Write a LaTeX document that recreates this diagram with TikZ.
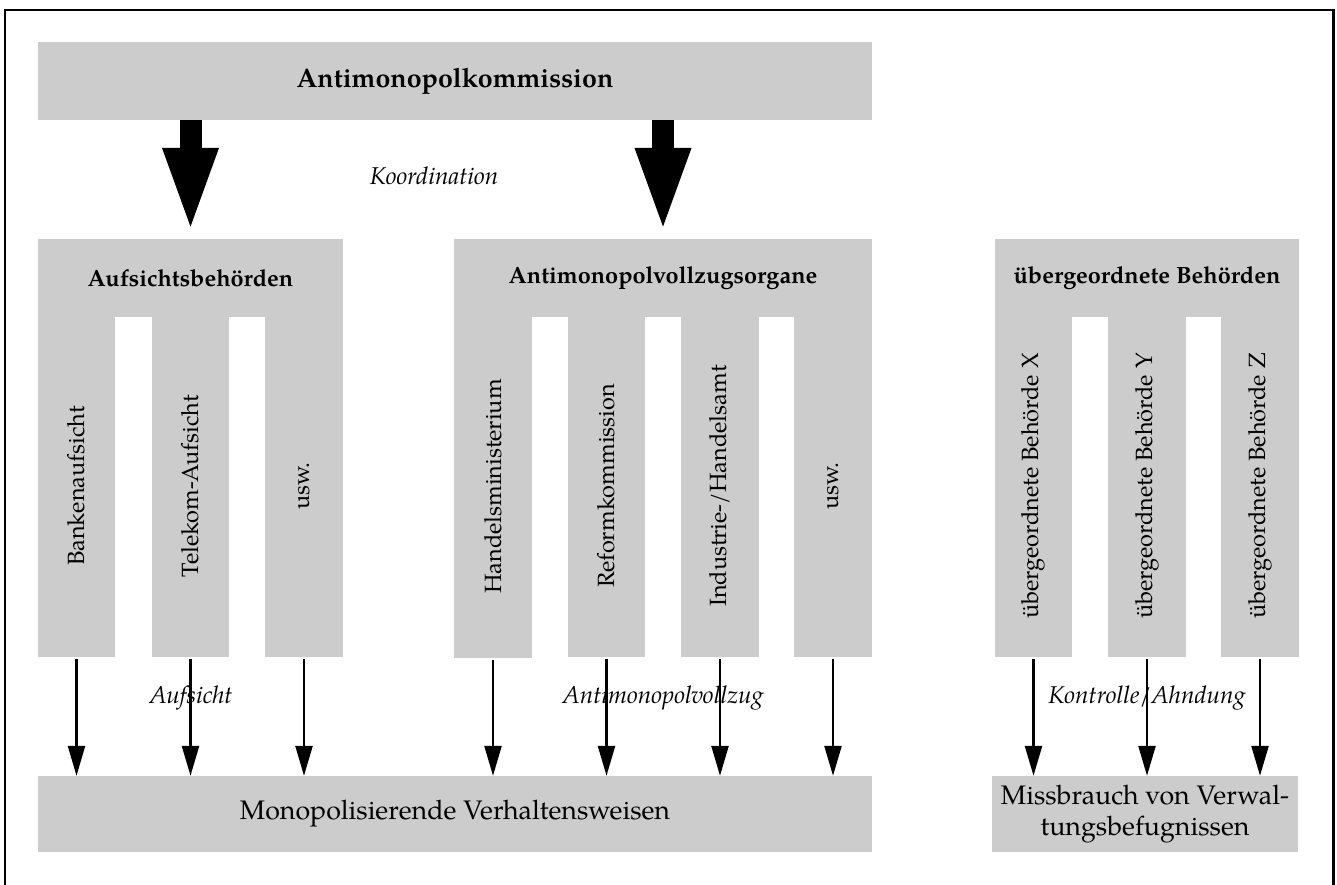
\documentclass[tikz,border=0pt]{standalone}
\usepackage{fontspec}
\setmainfont{TeX Gyre Pagella}
\usepackage{graphicx}
\usetikzlibrary{arrows.meta}
\definecolor{boxgray}{RGB}{204,204,204}
\begin{document}
\begin{tikzpicture}[x=1pt,y=-1pt,
  base/.style={font=\fontsize{23.5}{30}\selectfont},
  big/.style={font=\fontsize{26.8}{31}\selectfont},
  box/.style={base,fill=boxgray,draw=none,inner sep=0pt,minimum width=#1},
  head/.style={box=#1,minimum height=78pt,font=\fontsize{23.5}{30}\selectfont\bfseries},
  tine/.style={box=77.5pt,minimum height=342pt},
  lbl/.style={font=\fontsize{24.3}{30}\selectfont\itshape,inner sep=0pt},
  bigarrow/.style={line width=22pt,-{Triangle[width=49pt,length=87pt]},shorten >=4pt},
  thinarrow/.style={line width=2.4pt,-{Triangle[width=17pt,length=30pt]}}
]
\useasboundingbox (0,0) rectangle (1337,885);
\clip (0,0) rectangle (1337,885);
% frame
\draw[line width=2.6pt] (5,900) -- (5,10) -- (1333.5,10) -- (1333.5,900);

% top
\node[box=834pt,minimum height=78pt,font=\fontsize{26.8}{31}\selectfont\bfseries] (top) at (455,81) {Antimonopolkommission};

% headers (239 to 317, overlapping the tines)
\node[head=305pt] (aufs) at (190.5,278) {Aufsichtsbehörden};
\node[head=418pt] (anti) at (663,278) {Antimonopolvollzugsorgane};
\node[head=304pt] (ueber) at (1147,278) {übergeordnete Behörden};

% tines (315 to 657)
\node[tine] (a1) at (76.5,486) {\rotatebox{90}{Bankenaufsicht}};
\node[tine] (a2) at (190.5,486) {\rotatebox{90}{Telekom-Aufsicht}};
\node[tine] (a3) at (304,486) {\rotatebox{90}{usw.}};

\node[tine,minimum height=343pt] (b1) at (493,486.5) {\rotatebox{90}{Handelsministerium}};
\node[tine] (b2) at (606.5,486) {\rotatebox{90}{Reformkommission}};
\node[tine] (b3) at (720,486) {\rotatebox{90}{Industrie-/Handelsamt}};
\node[tine] (b4) at (833,486) {\rotatebox{90}{usw.}};

\node[tine] (c1) at (1033.5,486) {\rotatebox{90}{übergeordnete Behörde X}};
\node[tine] (c2) at (1147,486) {\rotatebox{90}{übergeordnete Behörde Y}};
\node[tine] (c3) at (1260,486) {\rotatebox{90}{übergeordnete Behörde Z}};

% bottom boxes
\node[box=834pt,minimum height=76pt,big] (mono) at (455,814) {Monopolisierende Verhaltensweisen};
\node[box=306pt,minimum height=76pt,align=center,big] (miss) at (1145,814) {Missbrauch von Verwal-\\tungsbefugnissen};

% labels
\node[lbl] (koord) at (434,176) {Koordination};
\node[lbl] (l1) at (191,698) {Aufsicht};
\node[lbl] (l2) at (663,698) {Antimonopolvollzug};
\node[lbl] (l3) at (1147,698) {Kontrolle/Ahndung};

% big arrows
\draw[bigarrow] (top.south -| aufs.north) -- (aufs.north);
\draw[bigarrow] (top.south -| anti.north) -- (anti.north);

% thin arrows
\foreach \t in {a1,a2,a3,b1,b2,b3,b4}
  \draw[thinarrow] ([yshift=-2pt]\t.south) -- (\t.south |- mono.north);
\foreach \t in {c1,c2,c3}
  \draw[thinarrow] ([yshift=-2pt]\t.south) -- (\t.south |- miss.north);
\end{tikzpicture}
\end{document}
